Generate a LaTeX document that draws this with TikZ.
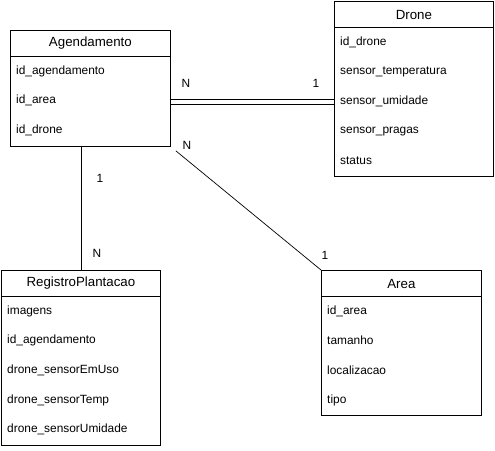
\documentclass[tikz,border=0pt]{standalone}
\usepackage{fontspec}
\setmainfont{Liberation Sans}
\usetikzlibrary{positioning,calc}

\tikzset{
  entity/.style={draw=black, line width=0.8pt, fill=white, anchor=north west, inner sep=0pt},
  entitytitle/.style={font=\fontsize{13.3}{15}\selectfont, inner sep=0pt},
  field/.style={font=\fontsize{11.9}{14}\selectfont, anchor=west, inner sep=0pt},
  card/.style={font=\fontsize{11.9}{14}\selectfont, inner sep=0pt},
  relline/.style={black, line width=0.7pt}
}

% table: name, top-left corner, width, height, title, fields
\newcommand{\EntityTable}[6]{%
  \node[entity, minimum width=#3, minimum height=#4] (#1) at #2 {};
  \node[entitytitle] (#1-title) at ($(#1.north)+(0,-13.5pt)$) {#5};
  \draw[line width=0.8pt] ($(#1.north west)+(0,-26pt)$) -- ($(#1.north east)+(0,-26pt)$);
  \foreach \txt [count=\i] in {#6} {
    \node[field] (#1-f\i) at ($(#1.north west)+(6pt,{-41pt-29.7pt*(\i-1)})$) {\txt};
  }
}

\begin{document}
\begin{tikzpicture}[x=1pt, y=-1pt]

\useasboundingbox (0,0) rectangle (495,450);

% Tables
\EntityTable{nAg}{(10,30)}{160pt}{116pt}{Agendamento}{id\_agendamento, id\_area, id\_drone}
\EntityTable{nDr}{(334,1)}{159pt}{175pt}{Drone}{id\_drone, sensor\_temperatura, sensor\_umidade, sensor\_pragas, status}
\EntityTable{nRp}{(1,270)}{159pt}{175pt}{RegistroPlantacao}{imagens, id\_agendamento, drone\_sensorEmUso, drone\_sensorTemp, drone\_sensorUmidade}
\EntityTable{nAr}{(321,270)}{160pt}{145pt}{Area}{id\_area, tamanho, localizacao, tipo}

% Agendamento -- Drone (double line)
\coordinate (cDblA) at ($(nAg.east)+(0,-11pt)$);
\coordinate (cDblB) at ($(nAg.east)+(0,-15.5pt)$);
\draw[relline] (cDblA) -- (cDblA -| nDr.west);
\draw[relline] (cDblB) -- (cDblB -| nDr.west);
\node[card] (lAgDr) at (186,83) {N};
\node[card] (lDrAg) at (316,83) {1};

% Agendamento -- Area
\draw[relline] ($(nAg.south east)+(5pt,-4pt)$) -- (nAr.north west);
\node[card] (lAgAr) at (187,145) {N};
\node[card] (lArAg) at (325,255) {1};

% Agendamento -- RegistroPlantacao
\draw[relline] (nRp.north) -- (nRp.north |- nAg.south);
\node[card] (lAgRp) at (100,178) {1};
\node[card] (lRpAg) at (97,253) {N};

\end{tikzpicture}
\end{document}
